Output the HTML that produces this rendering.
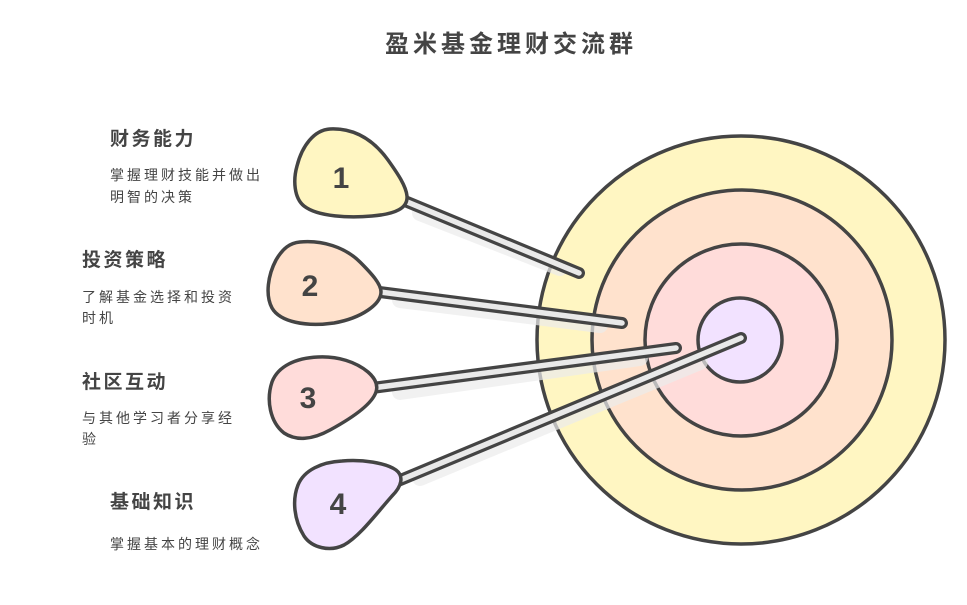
<!DOCTYPE html>
<html>
<head>
<meta charset="utf-8">
<style>
html,body{margin:0;padding:0;background:#fff;}
body{width:967px;height:605px;overflow:hidden;}
svg{display:block;}
.t{font-family:"Liberation Sans","Noto Sans CJK SC",sans-serif;fill:#444;}
</style>
</head>
<body>
<svg width="967" height="605" viewBox="0 0 967 605" xmlns="http://www.w3.org/2000/svg">
  <!-- title -->
  <text class="t" x="511" y="52" text-anchor="middle" font-size="24" font-weight="bold" letter-spacing="4">盈米基金理财交流群</text>

  <!-- target rings -->
  <circle cx="741" cy="340" r="204" fill="#fff6c2" stroke="#444" stroke-width="3.5"/>
  <circle cx="742" cy="340" r="150" fill="#ffe2cd" stroke="#444" stroke-width="3.5"/>
  <circle cx="741" cy="340" r="96" fill="#ffdcda" stroke="#444" stroke-width="3.5"/>
  <circle cx="740" cy="340" r="42" fill="#f2e2ff" stroke="#444" stroke-width="3.5"/>

  <!-- faint shaft shadows -->
  <g stroke-linecap="round" stroke="#ececec" stroke-width="16" opacity="0.7">
    <line x1="420" y1="213" x2="560" y2="268"/>
    <line x1="400" y1="300" x2="600" y2="325"/>
    <line x1="400" y1="392" x2="640" y2="358"/>
    <line x1="420" y1="478" x2="700" y2="362"/>
  </g>

  <!-- shafts -->
  <g stroke-linecap="round">
    <line x1="400" y1="199" x2="579" y2="273" stroke="#444" stroke-width="12"/>
    <line x1="400" y1="199" x2="579" y2="273" stroke="#e9e9e9" stroke-width="5.5"/>
    <line x1="372" y1="291" x2="622" y2="323" stroke="#444" stroke-width="12"/>
    <line x1="372" y1="291" x2="622" y2="323" stroke="#e9e9e9" stroke-width="5.5"/>
    <line x1="372" y1="388" x2="676" y2="348" stroke="#444" stroke-width="12"/>
    <line x1="372" y1="388" x2="676" y2="348" stroke="#e9e9e9" stroke-width="5.5"/>
    <line x1="398" y1="481" x2="741" y2="338" stroke="#444" stroke-width="12"/>
    <line x1="398" y1="481" x2="741" y2="338" stroke="#e9e9e9" stroke-width="5.5"/>
  </g>

  <!-- pins -->
  <path d="M330 129 C352 128 372 138 388 160 C398 174 406 186 407 196 C408 208 396 214 372 216 C350 218 318 217 304 206 C294 198 293 180 297 166 C302 146 314 130 330 129 Z" fill="#fff6c2" stroke="#444" stroke-width="3.5"/>
  <path d="M300 242 C322 240 345 247 360 262 C372 274 381 284 381 292 C381 304 362 318 334 323 C306 327 280 322 272 308 C265 295 268 275 276 260 C283 248 290 243 300 242 Z" fill="#ffe2cd" stroke="#444" stroke-width="3.5"/>
  <path d="M318 357 C338 356 356 362 368 372 C376 379 378 386 376 392 C372 404 352 418 330 430 C312 440 296 441 284 433 C270 422 266 400 272 382 C278 366 296 358 318 357 Z" fill="#ffdcda" stroke="#444" stroke-width="3.5"/>
  <path d="M342 461 C362 459 386 463 396 470 C404 476 402 486 392 496 C376 514 360 536 344 545 C330 552 312 548 304 536 C294 520 292 500 298 485 C304 470 322 462 342 461 Z" fill="#f2e2ff" stroke="#444" stroke-width="3.5"/>

  <!-- pin numbers -->
  <g class="t" font-size="30" font-weight="bold" text-anchor="middle">
    <text x="341" y="188">1</text>
    <text x="310" y="296">2</text>
    <text x="308" y="408">3</text>
    <text x="338" y="514">4</text>
  </g>

  <!-- labels -->
  <g class="t">
    <text x="110" y="145" font-size="19" font-weight="bold" letter-spacing="2.5">财务能力</text>
    <text x="110" y="180" font-size="14" letter-spacing="3">掌握理财技能并做出</text>
    <text x="110" y="202" font-size="14" letter-spacing="3">明智的决策</text>

    <text x="82" y="266" font-size="19" font-weight="bold" letter-spacing="2.5">投资策略</text>
    <text x="82" y="302" font-size="14" letter-spacing="3">了解基金选择和投资</text>
    <text x="82" y="323" font-size="14" letter-spacing="3">时机</text>

    <text x="82" y="388" font-size="19" font-weight="bold" letter-spacing="2.5">社区互动</text>
    <text x="82" y="423" font-size="14" letter-spacing="3">与其他学习者分享经</text>
    <text x="82" y="444" font-size="14" letter-spacing="3">验</text>

    <text x="110" y="508" font-size="19" font-weight="bold" letter-spacing="2.5">基础知识</text>
    <text x="110" y="549" font-size="14" letter-spacing="3">掌握基本的理财概念</text>
  </g>
</svg>
</body>
</html>
